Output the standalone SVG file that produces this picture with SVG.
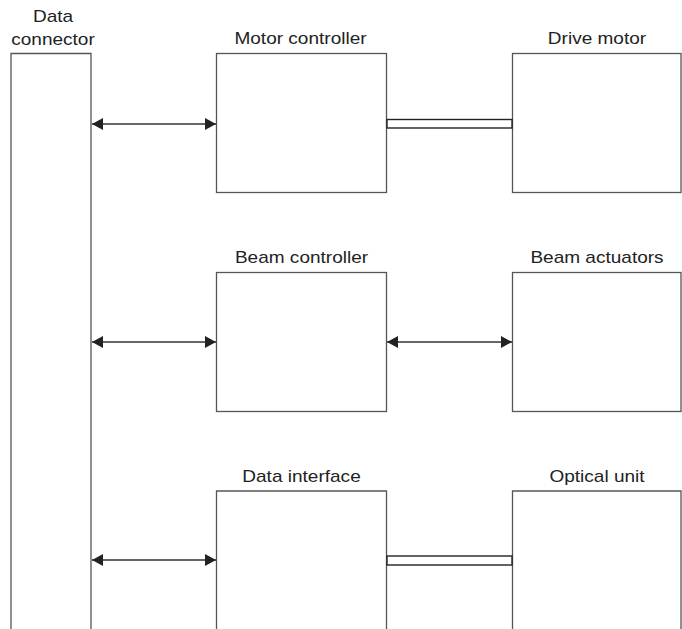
<svg xmlns="http://www.w3.org/2000/svg" width="682" height="629" viewBox="0 0 682 629">
<defs>
<style>
.box{fill:#fff;stroke:#555;stroke-width:1.3}
.lbl{font-family:"Liberation Sans",Arial,sans-serif;font-size:17px;fill:#222;text-anchor:middle}
.arr{stroke:#333;stroke-width:1.3;fill:none;marker-start:url(#ah);marker-end:url(#ah)}
.rail{fill:#fff;stroke:#222;stroke-width:1.4}
</style>
<marker id="ah" viewBox="0 0 11 12" refX="11" refY="6" markerWidth="11" markerHeight="12" markerUnits="userSpaceOnUse" orient="auto-start-reverse">
<path d="M0,0 L11,6 L0,12 Z" fill="#222"/>
</marker>
</defs>
<rect width="682" height="629" fill="#fff"/>
<g id="data-connector">
<path class="box" d="M11,630 V53.5 H91 V630"/>
<text class="lbl" transform="translate(53,22) scale(1.12,1)">Data</text>
<text class="lbl" transform="translate(53,45) scale(1.12,1)">connector</text>
</g>
<g id="motor-controller">
<rect class="box" x="216.5" y="53.5" width="170" height="139"/>
<text class="lbl" transform="translate(300.5,43.5) scale(1.12,1)">Motor controller</text>
</g>
<g id="drive-motor">
<rect class="box" x="512.5" y="53.5" width="168.5" height="139"/>
<text class="lbl" transform="translate(597,43.5) scale(1.12,1)">Drive motor</text>
</g>
<g id="beam-controller">
<rect class="box" x="216.5" y="272.5" width="170" height="139"/>
<text class="lbl" transform="translate(301.5,262.5) scale(1.12,1)">Beam controller</text>
</g>
<g id="beam-actuators">
<rect class="box" x="512.5" y="272.5" width="168.5" height="139"/>
<text class="lbl" transform="translate(597,262.5) scale(1.12,1)">Beam actuators</text>
</g>
<g id="data-interface">
<path class="box" d="M216.5,630 V491 H386.5 V630"/>
<text class="lbl" transform="translate(301.5,481.5) scale(1.12,1)">Data interface</text>
</g>
<g id="optical-unit">
<path class="box" d="M512.5,630 V491 H681 V630"/>
<text class="lbl" transform="translate(597,481.5) scale(1.12,1)">Optical unit</text>
</g>
<g id="connectors">
<line class="arr" x1="92" y1="124" x2="216" y2="124"/>
<line class="arr" x1="92" y1="342" x2="216" y2="342"/>
<line class="arr" x1="92" y1="560" x2="216" y2="560"/>
<line class="arr" x1="387" y1="342" x2="512" y2="342"/>
<rect class="rail" x="387" y="119.5" width="125" height="8.5"/>
<rect class="rail" x="387" y="556" width="125" height="9"/>
</g>
</svg>
